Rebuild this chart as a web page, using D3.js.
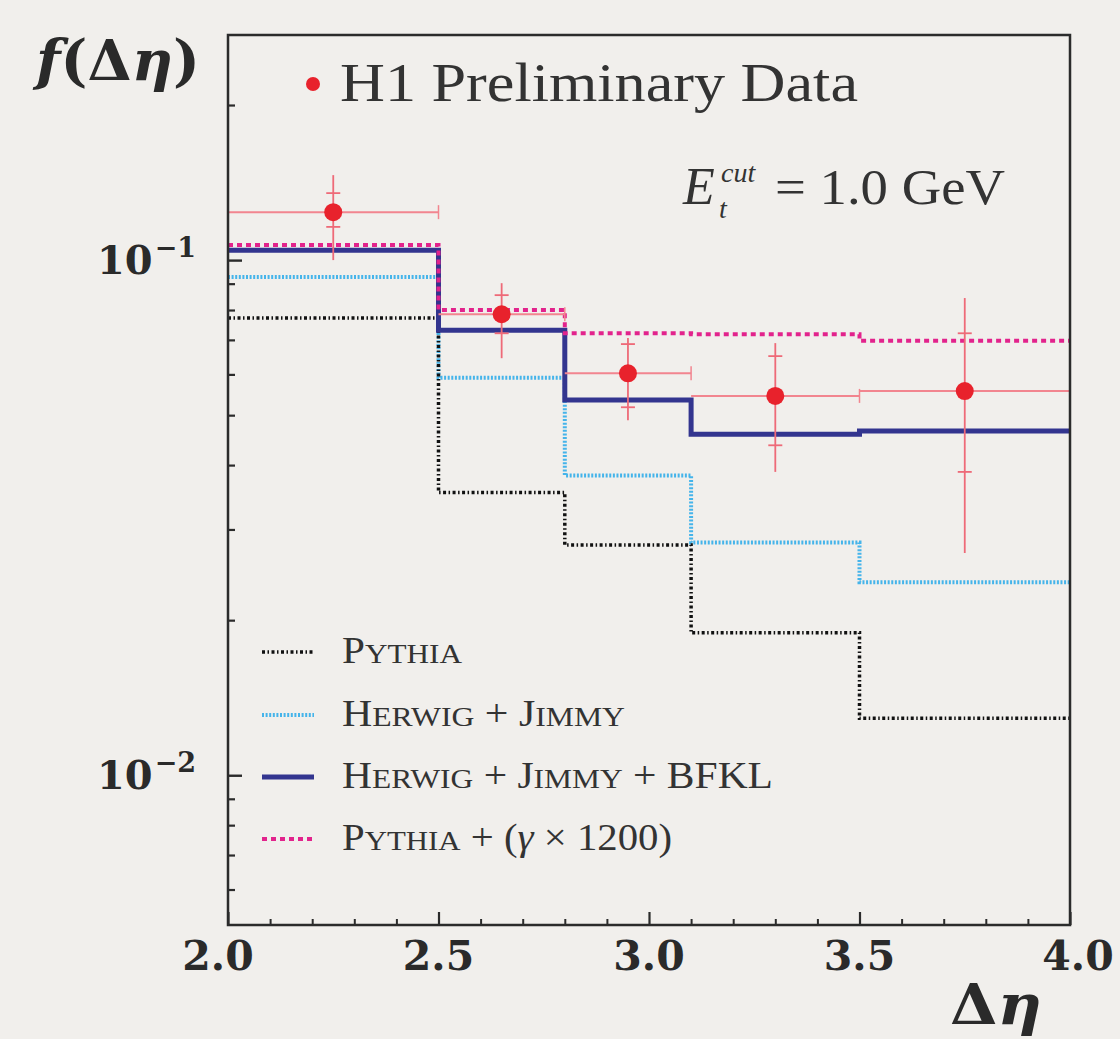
<!DOCTYPE html>
<html lang="en">
<head>
<meta charset="UTF-8">
<title>f(Δη) H1</title>
<script src="https://d3js.org/d3.v7.min.js"></script>
<style>
  body { margin: 0; background: #f1efec; }
  svg { display: block; }
</style>
</head>
<body>
<script>

// bin edges and model predictions (one value per bin)
var binEdges = [2.0, 2.5, 2.8, 3.1, 3.5, 4.0];
var pythia = [0.0772, 0.0354, 0.0280, 0.0189, 0.0129];
var herwigJimmy = [0.0927, 0.0591, 0.0382, 0.0283, 0.0237];
var herwigJimmyBfkl = [0.1045, 0.0731, 0.0535, 0.0459, 0.0466];
var pythiaGamma = [0.1070, 0.0800, 0.0721, 0.0718, 0.0697];

// H1 preliminary data
var dataX = [2.25, 2.65, 2.95, 3.3, 3.75];
var dataY = [0.1239, 0.0785, 0.0603, 0.0545, 0.0557];
var totHi = [0.1462, 0.0902, 0.0706, 0.0690, 0.0844];
var totLo = [0.1000, 0.0645, 0.0489, 0.0388, 0.0270];
var statHi = [0.1349, 0.0855, 0.0687, 0.0651, 0.0721];
var statLo = [0.1160, 0.0721, 0.0518, 0.0437, 0.0388];

var xTicks = [2.0, 2.5, 3.0, 3.5, 4.0];
var xTickLabels = ["2.0", "2.5", "3.0", "3.5", "4.0"];
var yMajor = [0.1, 0.01];
var yMajorExp = ["−1", "−2"];
var yMinor = [0.006, 0.007, 0.008, 0.009, 0.02, 0.03, 0.04, 0.05, 0.06, 0.07, 0.08, 0.09, 0.2];

var legendLabels = [
  [["P", 0], ["YTHIA", 1]],
  [["H", 0], ["ERWIG", 1], [" + J", 0], ["IMMY", 1]],
  [["H", 0], ["ERWIG", 1], [" + J", 0], ["IMMY", 1], [" + BFKL", 0]],
  [["P", 0], ["YTHIA", 1], [" + (", 0], ["γ", 2], [" × 1200)", 0]]
];
var legendWidths = [120, 283, 431, 330];

var W = 1120, H = 1039;
var plotL = 228, plotR = 1070, plotT = 35, plotB = 925;

var svg = d3.select("body").append("svg").attr("width", W).attr("height", H);
svg.append("rect").attr("width", W).attr("height", H).attr("fill", "#f1efec");

var x = d3.scaleLinear().domain([2, 4]).range([plotL, plotR]);
var y = d3.scaleLog().domain([0.00512, 0.2735]).range([plotB, plotT]);

var serif = "'Liberation Serif', 'DejaVu Serif', serif";
var boldSerif = "'DejaVu Serif', 'Liberation Serif', serif";

// model histograms as steps
var models = [
  { vals: herwigJimmy, color: "#45b4ea", width: 4, dash: "2,1.6" },
  { vals: pythia, color: "#111111", width: 3.5, dash: "3,2.5,1.5,2.5" },
  { vals: herwigJimmyBfkl, color: "#33358f", width: 5, dash: null },
  { vals: pythiaGamma, color: "#e2238c", width: 4, dash: "5,4" }
];

var step = d3.line()
  .x(function(d) { return x(d[0]); })
  .y(function(d) { return y(d[1]); })
  .curve(d3.curveStepAfter);

models.forEach(function(m) {
  var pts = m.vals.map(function(v, i) { return [binEdges[i], v]; });
  pts.push([binEdges[binEdges.length - 1], m.vals[m.vals.length - 1]]);
  svg.append("path")
    .attr("d", step(pts))
    .attr("fill", "none")
    .attr("stroke", m.color)
    .attr("stroke-width", m.width)
    .attr("stroke-dasharray", m.dash);
});

// data error bars
var errColor = "#ee6a78";
var g = svg.append("g");
for (let i = 0; i < dataX.length; i++) {
  var cx = x(dataX[i]), cy = y(dataY[i]);
  // horizontal bin width
  g.append("line").attr("x1", x(binEdges[i])).attr("x2", x(binEdges[i + 1]))
    .attr("y1", cy).attr("y2", cy).attr("stroke", "#f2858f").attr("stroke-width", 2);
  g.append("line").attr("x1", x(binEdges[i + 1])).attr("x2", x(binEdges[i + 1]))
    .attr("y1", cy - 7).attr("y2", cy + 7).attr("stroke", "#f2858f").attr("stroke-width", 1.5);
  // total error
  g.append("line").attr("x1", cx).attr("x2", cx)
    .attr("y1", y(totHi[i])).attr("y2", y(totLo[i])).attr("stroke", errColor).attr("stroke-width", 1.8);
  // statistical caps
  [statHi[i], statLo[i]].forEach(function(v) {
    g.append("line").attr("x1", cx - 7).attr("x2", cx + 7)
      .attr("y1", y(v)).attr("y2", y(v)).attr("stroke", errColor).attr("stroke-width", 1.8);
  });
  g.append("circle").attr("cx", cx).attr("cy", cy).attr("r", 9).attr("fill", "#e8222c");
}

// frame
svg.append("rect").attr("x", plotL).attr("y", plotT)
  .attr("width", plotR - plotL).attr("height", plotB - plotT)
  .attr("fill", "none").attr("stroke", "#2b2b2b").attr("stroke-width", 2.5);

// axes with inward ticks
var xMinor = d3.range(2.1, 4.0, 0.1).filter(function(t) { return Math.abs(t * 2 - Math.round(t * 2)) > 0.01; });
svg.append("g").attr("transform", "translate(0," + plotB + ")")
  .call(d3.axisBottom(x).tickValues(xTicks).tickSize(-13).tickFormat(""))
  .call(function(s) { s.select(".domain").remove(); s.selectAll("line").attr("stroke", "#2b2b2b").attr("stroke-width", 2.2); });
svg.append("g").attr("transform", "translate(0," + plotB + ")")
  .call(d3.axisBottom(x).tickValues(xMinor).tickSize(-6).tickFormat(""))
  .call(function(s) { s.select(".domain").remove(); s.selectAll("line").attr("stroke", "#2b2b2b").attr("stroke-width", 2); });
svg.append("g").attr("transform", "translate(" + plotL + ",0)")
  .call(d3.axisLeft(y).tickValues(yMajor).tickSize(-14).tickFormat(""))
  .call(function(s) { s.select(".domain").remove(); s.selectAll("line").attr("stroke", "#2b2b2b").attr("stroke-width", 2.4); });
svg.append("g").attr("transform", "translate(" + plotL + ",0)")
  .call(d3.axisLeft(y).tickValues(yMinor).tickSize(-7).tickFormat(""))
  .call(function(s) { s.select(".domain").remove(); s.selectAll("line").attr("stroke", "#2b2b2b").attr("stroke-width", 2.2); });

// x tick labels
xTicks.forEach(function(t, i) {
  svg.append("text").attr("x", x(t) - (i === 0 ? 10 : 0) + (i === 4 ? 8 : 0)).attr("y", 970)
    .attr("text-anchor", "middle")
    .attr("font-family", boldSerif).attr("font-weight", "bold").attr("font-size", 41)
    .attr("fill", "#2a2a2a").text(xTickLabels[i]);
});

// y tick labels 10^n
yMajor.forEach(function(v, i) {
  var t = svg.append("text").attr("x", 97).attr("y", y(v) + 14)
    .attr("font-family", boldSerif).attr("font-weight", "bold").attr("fill", "#2a2a2a");
  t.append("tspan").attr("font-size", 40).text("10");
  t.append("tspan").attr("font-size", 27).attr("dy", -17).attr("dx", 2).text(yMajorExp[i]);
});

// axis titles
var yt = svg.append("text").attr("x", 36).attr("y", 80)
  .attr("font-family", boldSerif).attr("font-weight", "bold").attr("font-size", 56).attr("fill", "#2a2a2a")
  .attr("textLength", 164).attr("lengthAdjust", "spacingAndGlyphs");
yt.append("tspan").attr("font-style", "italic").text("f");
yt.append("tspan").text("(Δ");
yt.append("tspan").attr("font-style", "italic").text("η");
yt.append("tspan").text(")");

var xt = svg.append("text").attr("x", 950).attr("y", 1024)
  .attr("font-family", boldSerif).attr("font-weight", "bold").attr("font-size", 56).attr("fill", "#2a2a2a")
  .attr("textLength", 92).attr("lengthAdjust", "spacingAndGlyphs");
xt.append("tspan").text("Δ");
xt.append("tspan").attr("font-style", "italic").text("η");

// data legend
svg.append("circle").attr("cx", 313).attr("cy", 84).attr("r", 7).attr("fill", "#e8222c");
svg.append("text").attr("x", 340).attr("y", 101)
  .attr("font-family", serif).attr("font-size", 55).attr("fill", "#333")
  .attr("textLength", 518).attr("lengthAdjust", "spacingAndGlyphs")
  .text("H1 Preliminary Data");

// E_t cut annotation
svg.append("text").attr("x", 683).attr("y", 204).attr("font-family", serif).attr("font-size", 52)
  .attr("font-style", "italic").attr("fill", "#333").text("E");
svg.append("text").attr("x", 721).attr("y", 182).attr("font-family", serif).attr("font-size", 28)
  .attr("font-style", "italic").attr("fill", "#333").text("cut");
svg.append("text").attr("x", 719).attr("y", 218).attr("font-family", serif).attr("font-size", 28)
  .attr("font-style", "italic").attr("fill", "#333").text("t");
svg.append("text").attr("x", 775).attr("y", 204).attr("font-family", serif).attr("font-size", 50)
  .attr("fill", "#333").attr("textLength", 230).attr("lengthAdjust", "spacingAndGlyphs")
  .text("= 1.0 GeV");

// model legend
var legendY = [652, 715, 777, 839];
var legendModels = [models[1], models[0], models[2], models[3]];
legendLabels.forEach(function(lab, i) {
  var m = legendModels[i];
  svg.append("line").attr("x1", 262).attr("x2", 314)
    .attr("y1", legendY[i]).attr("y2", legendY[i])
    .attr("stroke", m.color).attr("stroke-width", m.width).attr("stroke-dasharray", m.dash);
  var t = svg.append("text").attr("x", 342).attr("y", legendY[i] + 11)
    .attr("font-family", serif).attr("fill", "#333")
    .attr("textLength", legendWidths[i]).attr("lengthAdjust", "spacingAndGlyphs");
  lab.forEach(function(seg) {
    var s = t.append("tspan").text(seg[0]);
    s.attr("font-size", seg[1] === 1 ? 28 : 37);
    if (seg[1] === 2) s.attr("font-style", "italic");
  });
});

</script>
</body>
</html>
